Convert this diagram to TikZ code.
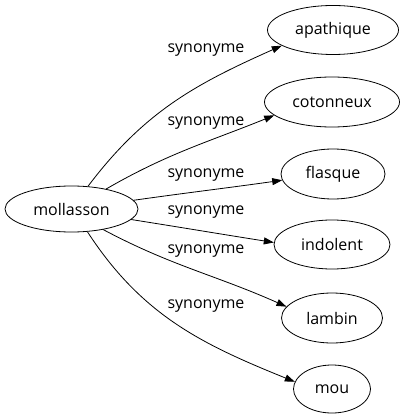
\documentclass[tikz,border=0pt]{standalone}
\usepackage{fontspec}
\setmainfont{Open Sans}
\usetikzlibrary{shapes.geometric, arrows.meta}

\begin{document}
\begin{tikzpicture}[x=1pt, y=-1pt, >={Triangle[length=10pt, width=7pt]}, line width=0.8pt,
        word/.style={draw, ellipse, inner sep=0pt, minimum height=49pt, font=\fontsize{16}{19}\selectfont},
        syn/.style={->},
        lbl/.style={font=\fontsize{16}{19}\selectfont}]
            \useasboundingbox (0, 0) rectangle (406, 419);

            \node[word, minimum width=133pt, minimum height=46pt] (moll) at (71.5, 209) {mollasson};
            \node[word, minimum width=131pt] (apat) at (333, 30) {apathique};
            \node[word, minimum width=135pt, minimum height=50pt] (coto) at (332, 102) {cotonneux};
            \node[word, minimum width=104pt, minimum height=50pt] (flas) at (333, 174) {flasque};
            \node[word, minimum width=116pt] (indo) at (332, 244.5) {indolent};
            \node[word, minimum width=101pt, minimum height=50pt] (lamb) at (332, 318) {lambin};
            \node[word, minimum width=77pt, minimum height=48pt] (mou) at (332, 389) {mou};

            \draw[syn] (moll.54) to[out=53, in=204] (apat.197);
            \draw[syn] (moll.30) to[out=30, in=202] (coto.193);
            \draw[syn] (moll.8) to[out=8, in=188] (flas.187);
            \draw[syn] (moll.-10) to[out=-9, in=171] (indo.178);
            \draw[syn] (moll.-33) to[out=-28, in=156] (lamb.166);
            \draw[syn] (moll.-55) to[out=-57, in=158] (mou.169);

            \node[lbl] (l1) at (206, 50) {synonyme};
            \node[lbl] (l2) at (206, 123) {synonyme};
            \node[lbl] (l3) at (206, 175) {synonyme};
            \node[lbl] (l4) at (206, 212) {synonyme};
            \node[lbl] (l5) at (206, 251) {synonyme};
            \node[lbl] (l6) at (206, 306) {synonyme};
        \end{tikzpicture}
\end{document}
